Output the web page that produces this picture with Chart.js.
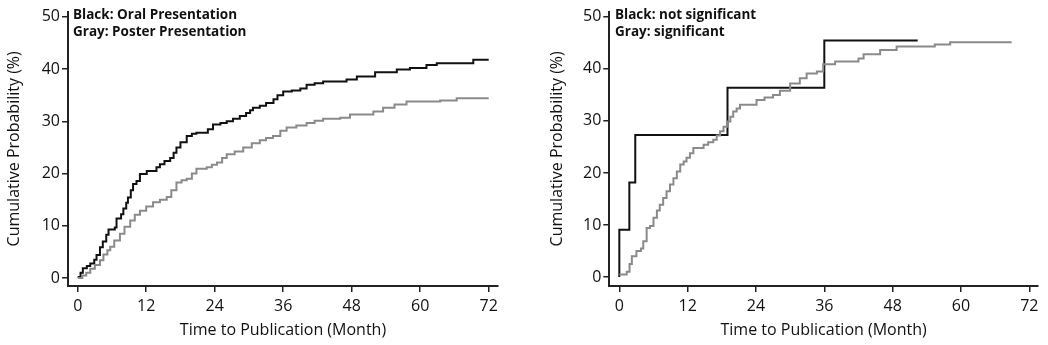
<!DOCTYPE html>
<html>
<head>
<meta charset="utf-8">
<script src="https://cdn.jsdelivr.net/npm/chart.js@4"></script>
<style>
  html, body { margin: 0; padding: 0; background: #fff; }
  #wrap { position: relative; width: 1048px; height: 345px; overflow: hidden; }
  .box { position: absolute; top: 0; width: 524px; height: 345px; }
  .legend { position: absolute; font-family: "Open Sans", sans-serif; font-weight: bold; font-size: 13.5px; line-height: 16.5px; color: #111; white-space: nowrap; }
</style>
</head>
<body>
<div id="wrap">
  <div class="box" style="left:0"><canvas id="c1" width="524" height="345"></canvas></div>
  <div class="box" style="left:524px"><canvas id="c2" width="524" height="345"></canvas></div>
  <div class="legend" style="left:73px; top:6px">Black: Oral Presentation<br>Gray: Poster Presentation</div>
  <div class="legend" style="left:615px; top:6px">Black: not significant<br>Gray: significant</div>
</div>
<script>
// ---- Data ----
const xTicks = [0, 12, 24, 36, 48, 60, 72];
const yTicks = [0, 10, 20, 30, 40, 50];
const xTitle = "Time to Publication (Month)";
const yTitle = "Cumulative Probability (%)";

// Left panel: Oral (black) vs Poster (gray)
const oralT = [0,0.5,0.9,1.6,2.2,2.9,3.3,3.9,4.4,5.0,5.4,6.5,6.8,7.6,8.0,8.5,8.8,9.3,9.7,10.3,10.9,12.1,13.8,14.4,15.2,16.2,16.8,17.3,18.0,19.1,20.0,20.8,22.8,23.7,25.0,26.1,27.2,28.4,29.5,30.2,30.7,31.9,33.0,34.3,35.0,36.0,37.5,39.0,40.1,41.5,43.0,47.1,48.9,52.1,55.9,58.2,61.1,62.9,69.3,72];
const oralV = [0.2,1.0,1.9,2.3,2.8,3.5,4.4,5.9,7.0,8.3,9.3,9.7,11.4,12.2,13.3,14.4,15.4,16.8,18.0,18.6,19.9,20.5,21.2,21.8,22.4,23.0,24.0,25.0,26.0,27.2,27.6,27.8,28.5,29.4,29.7,30.0,30.5,31.0,31.6,32.1,32.6,33.0,33.5,34.2,35.0,35.7,35.9,36.3,37.0,37.3,37.6,38.0,38.6,39.4,39.9,40.2,40.8,41.1,41.8,41.8];
const posterT = [0,0.8,1.5,2.2,3.0,3.9,4.5,5.2,5.7,6.4,7.4,8.2,9.2,10.0,10.9,12.0,13.2,14.4,15.6,16.4,17.3,18.2,19.1,20.0,20.8,22.6,23.5,24.4,25.3,26.1,27.5,29.0,30.5,31.9,33.0,34.2,35.5,36.6,38.3,40.1,41.5,43.0,46.0,47.7,51.8,53.5,55.5,57.6,63.5,66.4,72];
const posterV = [0,0.5,1.0,1.8,2.5,3.4,4.5,5.3,6.0,7.2,8.5,9.8,11.0,12.1,12.9,13.7,14.5,15.0,15.5,16.8,18.3,18.7,19.0,20.0,20.9,21.2,21.7,22.1,23.0,23.7,24.2,25.0,25.8,26.4,26.8,27.2,28.2,28.8,29.2,29.7,30.1,30.5,30.7,31.3,31.9,32.6,33.2,33.8,34.0,34.4,34.4];

// Right panel: not significant (black) vs significant (gray)
const nsT = [0,0,1.76,2.8,19.0,36.0,52.4];
const nsV = [0,9.09,18.18,27.27,36.36,45.45,45.45];
const sigT = [0,1.3,1.8,2.2,3.0,3.8,4.2,4.8,5.4,6.0,6.6,7.1,7.7,8.3,8.9,9.5,10.1,10.7,11.3,11.8,12.4,13.0,14.8,15.6,16.5,17.1,17.7,18.3,18.9,19.5,20.0,20.6,21.2,24.1,25.5,27.0,28.2,30.0,31.7,32.9,34.7,35.8,37.9,42.0,42.9,45.8,48.7,55.4,58.1,68.9];
const sigV = [0.5,1.0,2.5,4.0,5.0,5.5,6.9,9.4,9.8,11.4,12.8,13.9,15.2,16.5,17.8,19.0,20.3,21.6,22.2,22.9,23.8,24.8,25.4,25.9,26.4,27.2,28.0,28.9,29.9,30.8,31.8,32.4,33.1,34.0,34.5,35.0,35.8,37.2,38.2,39.1,39.5,40.9,41.4,42.0,42.8,43.6,44.3,44.7,45.1,45.1];

const zip = (t, v) => t.map((x, i) => ({ x: x, y: v[i] }));

function makeChart(id, s1, s2, cfg) {
  const font = { family: "Open Sans", size: 16 };
  return new Chart(document.getElementById(id), {
    type: 'line',
    data: {
      datasets: [
        { data: s2, borderColor: '#8a8a8a', borderWidth: 2, pointRadius: 0, stepped: true, fill: false },
        { data: s1, borderColor: '#111', borderWidth: cfg.blackWidth, pointRadius: 0, stepped: true, fill: false }
      ]
    },
    options: {
      responsive: false,
      animation: false,
      events: [],
      layout: { padding: { left: 0, right: cfg.padRight, top: 10, bottom: 0 } },
      plugins: { legend: { display: false }, tooltip: { enabled: false } },
      scales: {
        x: {
          type: 'linear', min: cfg.xMin, max: cfg.xMax,
          afterBuildTicks: (s) => { s.ticks = xTicks.map(v => ({ value: v })); },
          afterFit: (s) => { s.height = 59; },
          ticks: { font: font, color: '#111', padding: 5, maxRotation: 0, autoSkip: false },
          grid: { display: true, drawOnChartArea: false, drawTicks: true, tickLength: 6, color: '#222', lineWidth: 1.5 },
          border: { display: true, color: '#222', width: 2 },
          title: { display: true, text: xTitle, font: { family: "Open Sans", size: 16 }, color: '#111', padding: { top: 0, bottom: 5 } }
        },
        y: {
          type: 'linear', min: cfg.yMin, max: 51,
          afterBuildTicks: (s) => { s.ticks = yTicks.map(v => ({ value: v })); },
          afterFit: (s) => { s.width = cfg.yWidth; },
          ticks: { font: font, color: '#111', padding: 2, autoSkip: false },
          grid: { display: true, drawOnChartArea: false, drawTicks: true, tickLength: 6, color: '#222', lineWidth: 1.5 },
          border: { display: true, color: '#222', width: 2 },
          title: { display: true, text: yTitle, font: { family: "Open Sans", size: 16 }, color: '#111', padding: { top: cfg.yTitlePad, bottom: 0 } }
        }
      }
    }
  });
}

makeChart('c1', zip(oralT, oralV), zip(posterT, posterV),
  { xMin: -1.70, xMax: 73.63, yMin: -1.52, yWidth: 68, padRight: 26, yTitlePad: 5, blackWidth: 2 });
makeChart('c2', zip(nsT, nsV), zip(sigT, sigV),
  { xMin: -1.76, xMax: 73.53, yMin: -1.72, yWidth: 85.3, padRight: 10, yTitlePad: 24, blackWidth: 2 });
</script>
</body>
</html>
